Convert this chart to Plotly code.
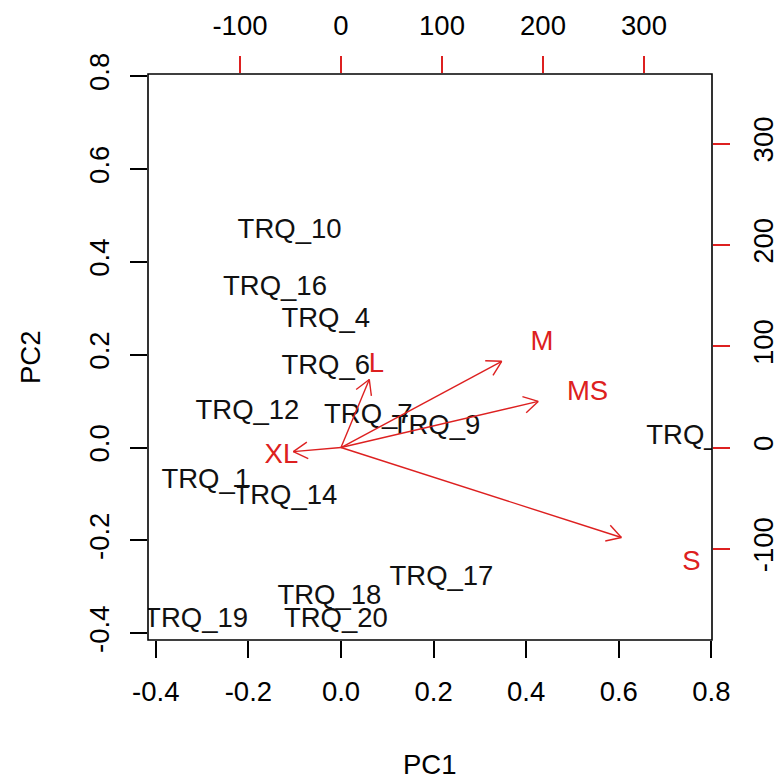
import math
import plotly.graph_objects as go

# ---- data ----
obs_labels = ["TRQ_10", "TRQ_16", "TRQ_4", "TRQ_6", "TRQ_12", "TRQ_7", "TRQ_9",
              "TRQ_2", "TRQ_1", "TRQ_14", "TRQ_17", "TRQ_18", "TRQ_20", "TRQ_19"]
pc1 = [-0.111, -0.1425, -0.033, -0.033, -0.202, 0.059, 0.205,
       0.755, -0.292, -0.120, 0.217, -0.025, -0.011, -0.313]
pc2 = [0.466, 0.343, 0.275, 0.174, 0.077, 0.068, 0.045,
       0.023, -0.073, -0.106, -0.282, -0.323, -0.372, -0.372]

var_labels = ["M", "MS", "L", "XL", "S"]
load1 = [198.9, 244.1, 35.0, -59.0, 347.0]
load2 = [106.4, 56.9, 84.0, -5.0, -111.0]

pc_ticks = [-0.4, -0.2, 0.0, 0.2, 0.4, 0.6, 0.8]
pc_ticktext = ["-0.4", "-0.2", "0.0", "0.2", "0.4", "0.6", "0.8"]
var_ticks = [-100, 0, 100, 200, 300]
var_ticktext = ["-100", "0", "100", "200", "300"]

# ---- layout constants ----
W, H = 783, 780
ML, MR, MT, MB = 148, 71, 74, 140
xlim = [-0.4168, 0.8013]
ylim = [-0.4144, 0.8043]
ratio = 458.4  # variable units per PC unit
x2lim = [v * ratio for v in xlim]
y2lim = [v * ratio for v in ylim]
px_per_var = (W - ML - MR) / (x2lim[1] - x2lim[0])

RED = "#DD2020"
FONT = "Liberation Sans, Arial, sans-serif"
FS = 27.5

fig = go.Figure()

# observations
fig.add_trace(go.Scatter(
    x=pc1, y=pc2, text=obs_labels, mode="text",
    textposition="middle center",
    textfont=dict(family=FONT, size=FS, color="#111111"),
    cliponaxis=True, hoverinfo="skip", showlegend=False,
    xaxis="x", yaxis="y"))

# arrows (to 0.8 of loading, R biplot style) with open heads
head_px = 16.5
head_len = head_px / px_per_var
ang = math.radians(30)
ax_x, ax_y = [], []
for a, b in zip(load1, load2):
    tx, ty = 0.8 * a, 0.8 * b
    ax_x += [0, tx, None]
    ax_y += [0, ty, None]
    th = math.atan2(ty, tx)
    for s in (ang, -ang):
        ax_x += [tx - head_len * math.cos(th + s), tx, None]
        ax_y += [ty - head_len * math.sin(th + s), ty, None]
fig.add_trace(go.Scatter(
    x=ax_x, y=ax_y, mode="lines", line=dict(color=RED, width=1.4),
    hoverinfo="skip", showlegend=False, xaxis="x2", yaxis="y2", cliponaxis=True))

fig.add_trace(go.Scatter(
    x=load1, y=[v - 3 for v in load2], text=var_labels, mode="text",
    textposition="middle center",
    textfont=dict(family=FONT, size=FS, color=RED),
    cliponaxis=True, hoverinfo="skip", showlegend=False,
    xaxis="x2", yaxis="y2"))

common = dict(showgrid=False, zeroline=False, showline=False, ticks="outside",
              ticklen=17, tickwidth=1.5, fixedrange=True, ticklabelstandoff=10,
              automargin=False,
              tickfont=dict(family=FONT, size=FS, color="black"))

fig.update_layout(
    width=W, height=H,
    margin=dict(l=ML, r=MR, t=MT, b=MB, pad=0, autoexpand=False),
    paper_bgcolor="white", plot_bgcolor="white",
    xaxis=dict(range=xlim, tickvals=pc_ticks, ticktext=pc_ticktext,
               tickcolor="black", **common),
    yaxis=dict(range=ylim, tickvals=pc_ticks, ticktext=pc_ticktext,
               tickcolor="black", tickangle=-90, **common),
    xaxis2=dict(range=x2lim, tickvals=var_ticks, ticktext=var_ticktext,
                overlaying="x", side="top", anchor="y",
                tickcolor=RED, **common),
    yaxis2=dict(range=y2lim, tickvals=var_ticks, ticktext=var_ticktext,
                overlaying="y", side="right", anchor="x",
                tickcolor=RED, tickangle=-90, **common),
    shapes=[dict(type="rect", xref="paper", yref="paper", x0=0, x1=1, y0=0, y1=1,
                 line=dict(color="black", width=1.6), layer="above")],
    annotations=[
        dict(text="PC1", xref="paper", yref="paper", x=0.5, y=-0.2208,
             xanchor="center", yanchor="middle", showarrow=False,
             font=dict(family=FONT, size=FS, color="black")),
        dict(text="PC2", xref="paper", yref="paper", x=-0.2092, y=0.5,
             xanchor="center", yanchor="middle", showarrow=False, textangle=-90,
             font=dict(family=FONT, size=FS, color="black")),
    ],
)

fig.write_html("out.html")
